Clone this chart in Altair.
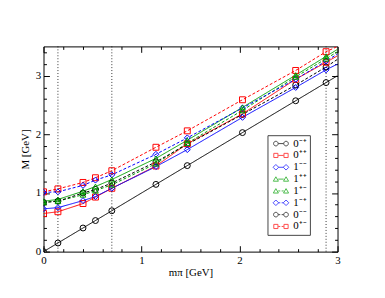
import altair as alt
import pandas as pd

# pion mass values (x) and masses of each channel (y), GeV
mpi = [0, 0.147, 0.403, 0.53, 0.697, 1.147, 1.467, 2.03, 2.573, 2.883]
edge_x = 3.0  # where the curves leave the frame

labels = ["0⁻⁺", "0⁺⁺", "1⁻⁻", "1⁺⁺", "1⁺⁻", "1⁻⁺", "0⁻⁻", "0⁺⁻"]
m_0mp = [0, 0.147, 0.403, 0.53, 0.697, 1.147, 1.467, 2.03, 2.573, 2.883]
m_0pp = [0.65, 0.68, 0.82, 0.93, 1.08, 1.46, 1.84, 2.35, 2.94, 3.23]
m_1mm = [0.73, 0.75, 0.87, 0.94, 1.08, 1.45, 1.74, 2.29, 2.80, 3.10]
m_1pp = [0.86, 0.89, 1.03, 1.11, 1.23, 1.59, 1.90, 2.46, 3.01, 3.33]
m_1pm = [0.84, 0.86, 0.97, 1.04, 1.14, 1.50, 1.85, 2.41, 2.98, 3.29]
m_1mp = [1.01, 1.02, 1.13, 1.22, 1.31, 1.66, 1.94, 2.45, 2.94, 3.25]
m_0mm = [0.84, 0.86, 1.00, 1.06, 1.17, 1.53, 1.83, 2.34, 2.84, 3.15]
m_0pm = [1.02, 1.07, 1.18, 1.26, 1.38, 1.78, 2.06, 2.59, 3.09, 3.41]
edge_vals = [3.0, 3.34, 3.2, 3.45, 3.41, 3.37, 3.28, 3.5]

all_m = [m_0mp, m_0pp, m_1mm, m_1pp, m_1pm, m_1mp, m_0mm, m_0pm]
colors = ["#000000", "#ff0000", "#0000ff", "#00a000", "#00a000", "#0000ff", "#000000", "#ff0000"]
dashed = [False, False, False, False, True, True, True, True]
marker = ["circle", "square", "diamond", "triangle-up", "triangle-up", "diamond", "circle", "square"]
vlines = [0.147, 0.697, 2.883]

x_major = [0, 1, 2, 3]
x_minor = [0.2, 0.4, 0.6, 0.8, 1.2, 1.4, 1.6, 1.8, 2.2, 2.4, 2.6, 2.8]
y_major = [0, 1, 2, 3]
y_minor = [0.2, 0.4, 0.6, 0.8, 1.2, 1.4, 1.6, 1.8, 2.2, 2.4, 2.6, 2.8, 3.2, 3.4]

rows = []
for lab, ms, ev in zip(labels, all_m, edge_vals):
    for xv, mv in zip(mpi, ms):
        rows.append({"s": lab, "x": xv, "m": mv, "edge": 0})
    rows.append({"s": lab, "x": edge_x, "m": ev, "edge": 1})
df = pd.DataFrame(rows)

FONT = "Liberation Serif"
xs = alt.Scale(domain=[0, 3], nice=False, zero=False)
ys = alt.Scale(domain=[0, 3.5], nice=False, zero=False)
# plot scales use the reversed order so they are not merged with the (visible) legend scales
cscale = alt.Scale(domain=labels[::-1], range=colors[::-1])
dscale = alt.Scale(domain=labels[::-1], range=[[3, 2] if d else [1, 0] for d in dashed][::-1])


def axis(orient, values, size, labels_on=False, title=None, **kw):
    args = dict(orient=orient, values=values, tickSize=size, offset=-size, domain=False,
                grid=False, labels=labels_on, tickColor="black", tickWidth=1)
    if labels_on:
        args.update(labelFont=FONT, labelFontSize=11, labelColor="black", labelPadding=3,
                    labelFlush=False, labelOverlap=False, format="d")
    if title:
        args.update(title=title, titleFont=FONT, titleFontSize=11, titleFontWeight="normal",
                    titleColor="black")
    else:
        args.update(title=None)
    args.update(kw)
    return alt.Axis(**args)


lines = alt.Chart(df).mark_line(strokeWidth=1, clip=True).encode(
    x=alt.X("x:Q", scale=xs, axis=axis("bottom", x_major, 6, True, "mπ [GeV]", titlePadding=1)),
    y=alt.Y("m:Q", scale=ys, axis=axis("left", y_major, 6, True, "M [GeV]", titlePadding=5)),
    color=alt.Color("s:N", scale=cscale, legend=None),
    strokeDash=alt.StrokeDash("s:N", scale=dscale, legend=None),
    detail="s:N",
    order="x:Q",
)

axis_sets = {
    "circle": (axis("bottom", x_minor, 3), axis("left", y_minor, 3)),
    "square": (axis("top", x_major, 6), axis("right", y_major, 6)),
    "diamond": (axis("top", x_minor, 3), axis("right", y_minor, 3)),
    "triangle-up": (None, None),
}

marker_layers = []
for shp in ["circle", "square", "diamond", "triangle-up"]:
    names = [l for l, m in zip(labels, marker) if m == shp]
    ax_x, ax_y = axis_sets[shp]
    layer = alt.Chart(df).transform_filter("datum.edge == 0").transform_filter(
        alt.FieldOneOfPredicate(field="s", oneOf=names)
    ).mark_point(shape=shp, filled=False, size=36 if shp != "triangle-up" else 32,
                 strokeWidth=1, opacity=1, clip=True).encode(
        x=alt.X("x:Q", scale=xs, axis=ax_x),
        y=alt.Y("m:Q", scale=ys, axis=ax_y),
        color=alt.Color("s:N", scale=cscale, legend=None),
    )
    marker_layers.append(layer)

rules = alt.Chart(pd.DataFrame({"x": vlines})).mark_rule(
    color="black", strokeWidth=0.8, strokeDash=[1, 2]
).encode(x=alt.X("x:Q", scale=xs, axis=None))


def mk(shape, ox):
    if shape == "circle":
        return f"M{ox-1},0A1,1 0 1,1 {ox+1},0A1,1 0 1,1 {ox-1},0Z"
    if shape == "square":
        return f"M{ox-0.9},-0.9L{ox+0.9},-0.9L{ox+0.9},0.9L{ox-0.9},0.9Z"
    if shape == "diamond":
        return f"M{ox},-1.2L{ox+1.2},0L{ox},1.2L{ox-1.2},0Z"
    return f"M{ox},-1L{ox+1.1},0.9L{ox-1.1},0.9Z"


legend_paths = []
for shp, d in zip(marker, dashed):
    seg = "M1,0L1.9,0M2.5,0L3.4,0" if d else "M1,0L3.4,0"
    legend_paths.append(mk(shp, 0) + seg + mk(shp, 4.4))

leg = alt.Legend(title=None, orient="none", legendX=227, legendY=90, padding=3,
                 strokeColor="#444444", fillColor="white", labelFont=FONT, labelFontSize=11,
                 labelColor="black", symbolSize=22, symbolStrokeWidth=1, labelOffset=12,
                 rowPadding=0)

# legend carrier: same points, pushed out of the clipped plot area
legend_layer = alt.Chart(df).transform_filter("datum.edge == 0").transform_calculate(
    hidden="datum.m + 100"
).mark_point(filled=False, strokeWidth=1, clip=True).encode(
    x=alt.X("x:Q", scale=xs, axis=None),
    y=alt.Y("hidden:Q", scale=ys, axis=None),
    shape=alt.Shape("s:N", scale=alt.Scale(domain=labels, range=legend_paths), legend=leg),
    stroke=alt.Stroke("s:N", scale=alt.Scale(domain=labels, range=colors), legend=leg),
)

chart = alt.layer(lines, *marker_layers, rules, legend_layer).resolve_axis(
    x="independent", y="independent"
).properties(
    width=298, height=208,
    autosize=alt.AutoSizeParams(type="none"),
    padding={"left": 36, "top": 37, "right": 40, "bottom": 40},
    background="white",
).configure_view(stroke="black", strokeWidth=1)

chart.save("out.html", embed_options={"renderer": "svg", "actions": False})
